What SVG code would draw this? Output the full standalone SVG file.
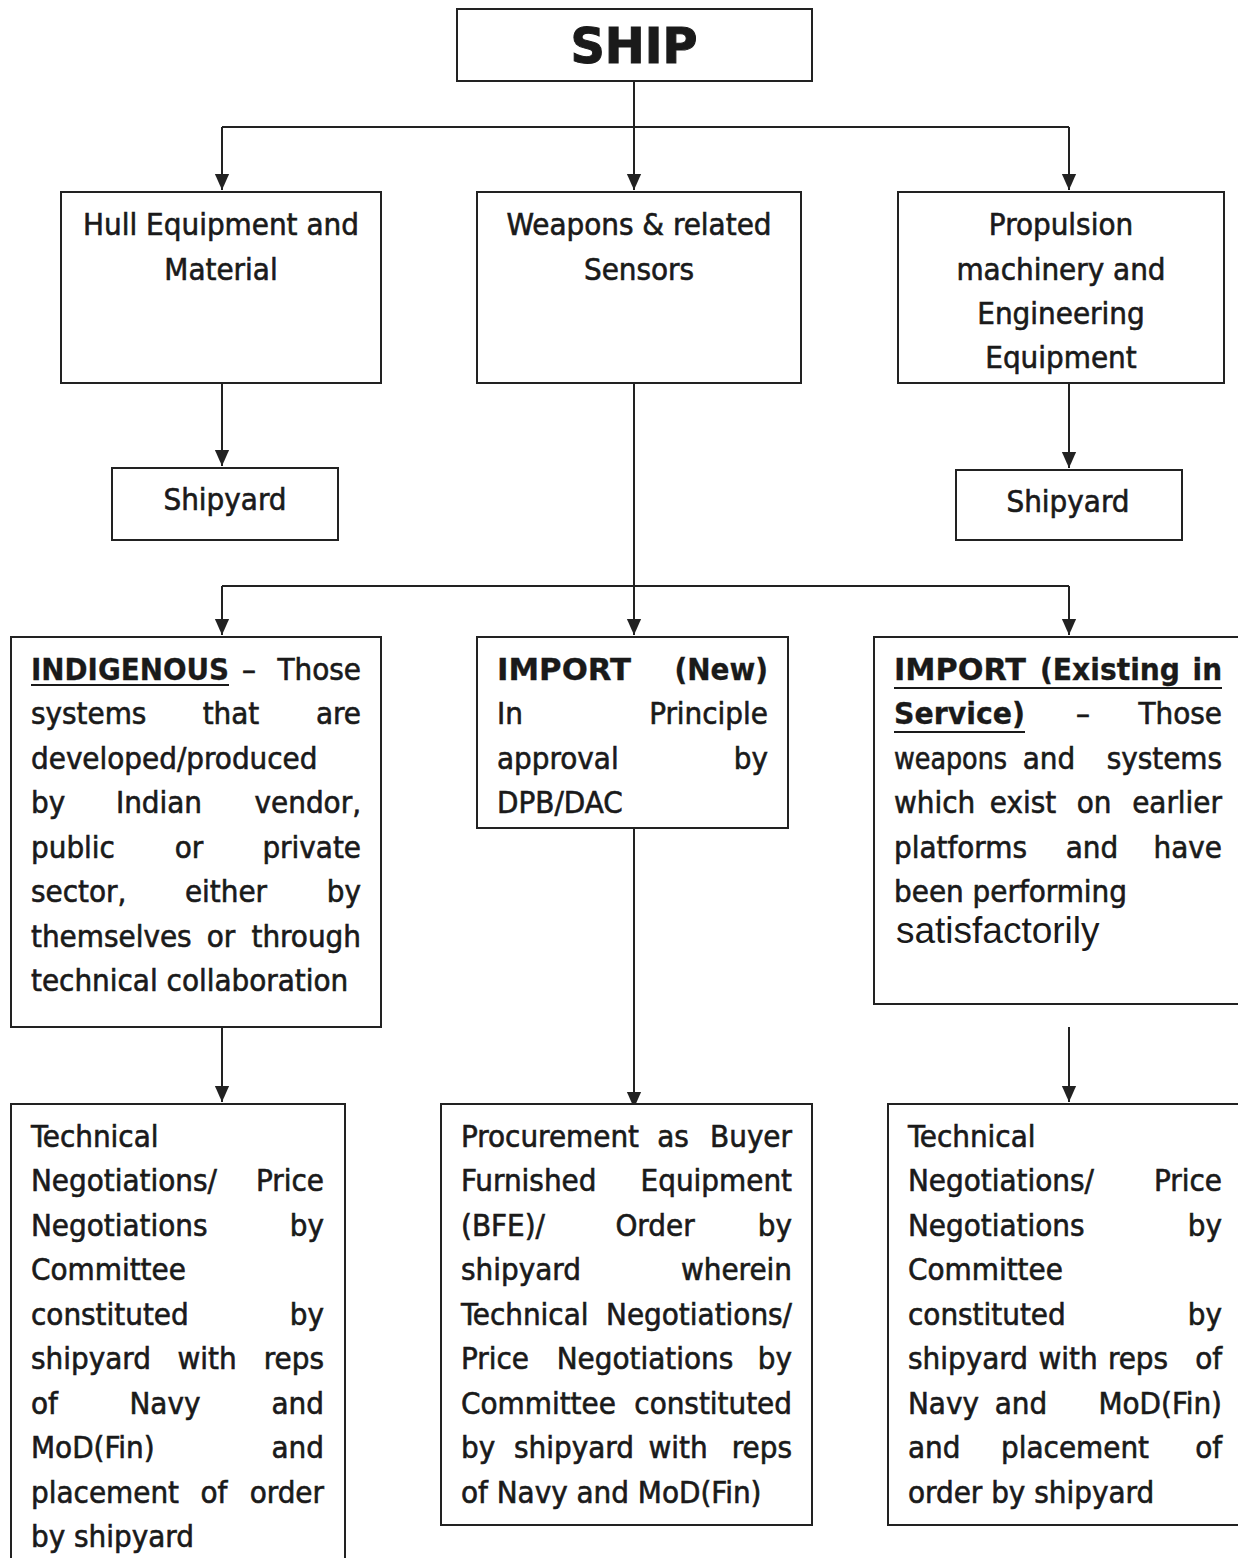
<svg xmlns="http://www.w3.org/2000/svg" width="1238" height="1558" viewBox="0 0 1238 1558">
<style>
.box{fill:#fff;stroke:#222;stroke-width:2}
.ln{fill:none;stroke:#222;stroke-width:2}
.t{font-family:"DejaVu Sans Condensed","DejaVu Sans",sans-serif;font-stretch:condensed;font-size:31px;fill:#1a1a1a;stroke:#1a1a1a;stroke-width:0.6}
.b{font-weight:bold;stroke-width:0.3}
.m{text-anchor:middle}
.e{text-anchor:end}
.u{stroke:#1a1a1a;stroke-width:2}
</style>
<defs>
<marker id="a" markerUnits="userSpaceOnUse" markerWidth="16" markerHeight="18" refX="18" refY="8" orient="auto" viewBox="0 0 18 16">
<path d="M0,0 L18,8 L0,16 Z" fill="#222"/>
</marker>
</defs>
<rect width="1238" height="1558" fill="#fff"/>
<g id="connectors">
<path class="ln" d="M634,81 V190" marker-end="url(#a)"/>
<path class="ln" d="M222,127 H1069"/>
<path class="ln" d="M222,127 V190" marker-end="url(#a)"/>
<path class="ln" d="M1069,127 V190" marker-end="url(#a)"/>
<path class="ln" d="M222,383 V466" marker-end="url(#a)"/>
<path class="ln" d="M1069,383 V468" marker-end="url(#a)"/>
<path class="ln" d="M634,383 V635" marker-end="url(#a)"/>
<path class="ln" d="M222,586 H1069"/>
<path class="ln" d="M222,586 V635" marker-end="url(#a)"/>
<path class="ln" d="M1069,586 V635" marker-end="url(#a)"/>
<path class="ln" d="M222,1027 V1102" marker-end="url(#a)"/>
<path class="ln" d="M634,828 V1108" marker-end="url(#a)"/>
<path class="ln" d="M1069,1027 V1102" marker-end="url(#a)"/>
</g>
<g id="ship">
<rect class="box" x="457" y="9" width="355" height="72"/>
<text class="t b m" x="634" y="63" style="font-size:50px;stroke-width:1" textLength="127" lengthAdjust="spacingAndGlyphs">SHIP</text>
</g>
<g id="hull">
<rect class="box" x="61" y="192" width="320" height="191"/>
<text class="t m" x="221" y="235">Hull Equipment and</text>
<text class="t m" x="221" y="280">Material</text>
</g>
<g id="weapons">
<rect class="box" x="477" y="192" width="324" height="191"/>
<text class="t m" x="639" y="235">Weapons &amp; related</text>
<text class="t m" x="639" y="280">Sensors</text>
</g>
<g id="propulsion">
<rect class="box" x="898" y="192" width="326" height="191"/>
<text class="t m" x="1061" y="235">Propulsion</text>
<text class="t m" x="1061" y="280">machinery and</text>
<text class="t m" x="1061" y="324">Engineering</text>
<text class="t m" x="1061" y="368">Equipment</text>
</g>
<g id="shipyard1">
<rect class="box" x="112" y="468" width="226" height="72"/>
<text class="t m" x="225" y="510">Shipyard</text>
</g>
<g id="shipyard2">
<rect class="box" x="956" y="470" width="226" height="70"/>
<text class="t m" x="1068" y="512">Shipyard</text>
</g>
<g id="indigenous">
<rect class="box" x="11" y="637" width="370" height="390"/>
<text class="t b" x="31" y="680" textLength="198" lengthAdjust="spacingAndGlyphs">INDIGENOUS</text>
<line class="u" x1="31" y1="685" x2="229" y2="685"/>
<text class="t m" x="249" y="680">–</text>
<text class="t e" x="361" y="680">Those</text>
<text class="t" x="31" y="724">systems</text>
<text class="t m" x="231" y="724">that</text>
<text class="t e" x="361" y="724">are</text>
<text class="t" x="31" y="769">developed/produced</text>
<text class="t" x="31" y="813">by</text>
<text class="t m" x="159" y="813">Indian</text>
<text class="t e" x="361" y="813">vendor,</text>
<text class="t" x="31" y="858">public</text>
<text class="t m" x="189" y="858">or</text>
<text class="t e" x="361" y="858">private</text>
<text class="t" x="31" y="902">sector,</text>
<text class="t m" x="226" y="902">either</text>
<text class="t e" x="361" y="902">by</text>
<text class="t" x="31" y="947">themselves</text>
<text class="t m" x="221" y="947">or</text>
<text class="t e" x="361" y="947">through</text>
<text class="t" x="31" y="991">technical collaboration</text>
</g>
<g id="import-new">
<rect class="box" x="477" y="637" width="311" height="191"/>
<text class="t b" x="497" y="680" textLength="134" lengthAdjust="spacingAndGlyphs">IMPORT</text>
<text class="t b e" x="768" y="680">(New)</text>
<text class="t" x="497" y="724">In</text>
<text class="t e" x="768" y="724">Principle</text>
<text class="t" x="497" y="769">approval</text>
<text class="t e" x="768" y="769">by</text>
<text class="t" x="497" y="813">DPB/DAC</text>
</g>
<g id="import-existing">
<rect class="box" x="874" y="637" width="370" height="367"/>
<text class="t b" x="894" y="680" textLength="132" lengthAdjust="spacingAndGlyphs">IMPORT</text>
<text class="t b" x="1040" y="680" textLength="140" lengthAdjust="spacingAndGlyphs">(Existing</text>
<text class="t b e" x="1222" y="680">in</text>
<line class="u" x1="894" y1="688" x2="1222" y2="688"/>
<text class="t b" x="894" y="724" textLength="131" lengthAdjust="spacingAndGlyphs">Service)</text>
<line class="u" x1="894" y1="732" x2="1025" y2="732"/>
<text class="t m" x="1083" y="724">–</text>
<text class="t e" x="1222" y="724">Those</text>
<text class="t" x="894" y="769" textLength="113" lengthAdjust="spacingAndGlyphs">weapons</text>
<text class="t m" x="1049" y="769">and</text>
<text class="t e" x="1222" y="769">systems</text>
<text class="t" x="894" y="813">which</text>
<text class="t m" x="1023" y="813">exist</text>
<text class="t m" x="1094" y="813">on</text>
<text class="t e" x="1222" y="813">earlier</text>
<text class="t" x="894" y="858">platforms</text>
<text class="t m" x="1092" y="858">and</text>
<text class="t e" x="1222" y="858">have</text>
<text class="t" x="894" y="902">been performing</text>
<text x="896" y="943" style="font-family:'Liberation Sans',Arial,sans-serif;font-size:37px;fill:#1a1a1a">satisfactorily</text>
</g>
<g id="tech-left">
<rect class="box" x="11" y="1104" width="334" height="470"/>
<text class="t" x="31" y="1147">Technical</text>
<text class="t" x="31" y="1191">Negotiations/</text>
<text class="t e" x="324" y="1191">Price</text>
<text class="t" x="31" y="1236">Negotiations</text>
<text class="t e" x="324" y="1236">by</text>
<text class="t" x="31" y="1280">Committee</text>
<text class="t" x="31" y="1325">constituted</text>
<text class="t e" x="324" y="1325">by</text>
<text class="t" x="31" y="1369">shipyard</text>
<text class="t m" x="207" y="1369">with</text>
<text class="t e" x="324" y="1369">reps</text>
<text class="t" x="31" y="1414">of</text>
<text class="t m" x="165" y="1414">Navy</text>
<text class="t e" x="324" y="1414">and</text>
<text class="t" x="31" y="1458">MoD(Fin)</text>
<text class="t e" x="324" y="1458">and</text>
<text class="t" x="31" y="1503">placement</text>
<text class="t m" x="214" y="1503">of</text>
<text class="t e" x="324" y="1503">order</text>
<text class="t" x="31" y="1547">by shipyard</text>
</g>
<g id="bfe">
<rect class="box" x="441" y="1104" width="371" height="421"/>
<text class="t" x="461" y="1147">Procurement</text>
<text class="t m" x="673" y="1147">as</text>
<text class="t e" x="792" y="1147">Buyer</text>
<text class="t" x="461" y="1191">Furnished</text>
<text class="t e" x="792" y="1191">Equipment</text>
<text class="t" x="461" y="1236">(BFE)/</text>
<text class="t m" x="655" y="1236">Order</text>
<text class="t e" x="792" y="1236">by</text>
<text class="t" x="461" y="1280">shipyard</text>
<text class="t e" x="792" y="1280">wherein</text>
<text class="t" x="461" y="1325">Technical</text>
<text class="t e" x="792" y="1325">Negotiations/</text>
<text class="t" x="461" y="1369">Price</text>
<text class="t m" x="645" y="1369">Negotiations</text>
<text class="t e" x="792" y="1369">by</text>
<text class="t" x="461" y="1414">Committee</text>
<text class="t e" x="792" y="1414">constituted</text>
<text class="t" x="461" y="1458">by</text>
<text class="t m" x="574" y="1458">shipyard</text>
<text class="t m" x="678" y="1458">with</text>
<text class="t e" x="792" y="1458">reps</text>
<text class="t" x="461" y="1503">of Navy and MoD(Fin)</text>
</g>
<g id="tech-right">
<rect class="box" x="888" y="1104" width="356" height="421"/>
<text class="t" x="908" y="1147">Technical</text>
<text class="t" x="908" y="1191">Negotiations/</text>
<text class="t e" x="1222" y="1191">Price</text>
<text class="t" x="908" y="1236">Negotiations</text>
<text class="t e" x="1222" y="1236">by</text>
<text class="t" x="908" y="1280">Committee</text>
<text class="t" x="908" y="1325">constituted</text>
<text class="t e" x="1222" y="1325">by</text>
<text class="t" x="908" y="1369">shipyard</text>
<text class="t m" x="1068" y="1369">with</text>
<text class="t m" x="1138" y="1369">reps</text>
<text class="t e" x="1222" y="1369">of</text>
<text class="t" x="908" y="1414">Navy</text>
<text class="t m" x="1021" y="1414">and</text>
<text class="t e" x="1222" y="1414">MoD(Fin)</text>
<text class="t" x="908" y="1458">and</text>
<text class="t m" x="1075" y="1458">placement</text>
<text class="t e" x="1222" y="1458">of</text>
<text class="t" x="908" y="1503">order by shipyard</text>
</g>
</svg>
